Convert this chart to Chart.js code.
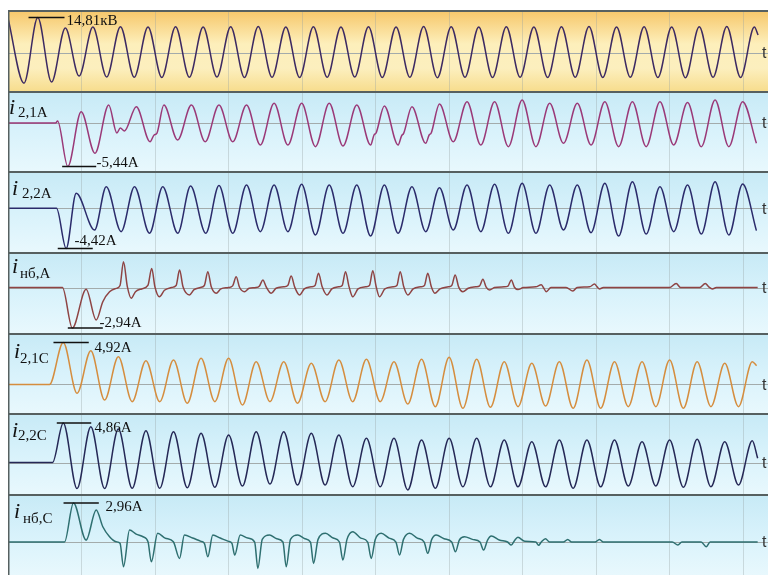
<!DOCTYPE html>
<html>
<head>
<meta charset="utf-8">
<script src="https://cdn.jsdelivr.net/npm/chart.js@4.4.1/dist/chart.umd.min.js"></script>
<style>
  html, body { margin: 0; padding: 0; background: #fff; }
  #wrap { position: relative; width: 768px; height: 575px; overflow: hidden; background: #fff; }
  #wrap canvas { position: absolute; left: 8px; }
</style>
</head>
<body>
<div id="wrap"></div>
<script>
// Oscillogram of a transformer differential protection event.
// Each trace is a list of [time, value] points (time in ms).

// Bus voltage, kV
const uBus = [[0,14.5],[11.6,-12.6],[21.6,14.81],[31.6,-12.1],[41.6,10.4],[51.6,-9.6],
  [61.6,10.8],[71.6,-10.0],[81.6,11.0],[91.6,-10.1],[101.6,10.9],[111.6,-10.2],[121.6,11.0],[131.6,-10.1],
  [141.6,10.9],[151.6,-10.0],[161.6,11.0],[171.6,-10.2],[181.6,11.1],[191.6,-10.1],[201.6,10.9],[211.6,-10.2],
  [221.6,11.0],[231.6,-10.1],[241.6,10.9],[251.6,-10.0],[261.6,11.0],[271.6,-10.2],[281.6,10.9],[291.6,-10.1],
  [301.6,11.1],[311.6,-10.3],[321.6,11.0],[331.6,-10.1],[341.6,10.9],[351.6,-10.2],[361.6,11.0],[371.6,-10.1],
  [381.6,10.9],[391.6,-10.2],[401.6,11.0],[411.6,-10.1],[421.6,11.1],[431.6,-10.2],[441.6,10.9],[451.6,-10.1],
  [461.6,11.0],[471.6,-10.2],[481.6,10.9],[491.6,-10.3],[501.6,11.0],[511.6,-10.1],[521.6,11.1],[531.6,-10.2],
  [541.6,10.8],[544.3,7.5]];

// Secondary current i2,1 phase A, A
const i21A = [[0,0],[34.6,0],[36.0,0.25],[43.4,-5.44],[53.1,1.41],[63.1,-3.79],[73.1,2.25],[79.0,-1.25],
  [81.5,-0.63],[84.5,-1.0],[93.1,2.04],[103.1,-2.34],[106.0,-1.5],[108.0,-1.3],[113.1,2.25],[123.1,-2.13],
  [133.1,2.25],[143.1,-2.34],[153.1,2.25],[163.1,-2.34],[173.1,2.25],[183.1,-2.75],[193.1,2.46],[203.1,-2.75],
  [213.1,2.46],[223.1,-2.96],[233.1,2.46],[243.1,-2.88],[253.1,2.25],[263.1,-2.75],[265.6,-1.5],[267.1,-1.25],
  [273.1,2.13],[283.1,-2.75],[285.6,-1.6],[287.1,-1.3],[293.1,2.04],[303.1,-2.54],[305.6,-1.5],[307.1,-1.25],
  [313.1,2.38],[323.1,-2.34],[333.1,2.67],[343.1,-2.75],[353.1,2.67],[363.1,-2.96],[373.1,2.88],[383.1,-2.96],
  [393.1,2.46],[403.1,-2.54],[413.1,2.46],[423.1,-2.75],[433.1,2.67],[443.1,-2.96],[453.1,2.67],[463.1,-2.96],
  [473.1,2.67],[483.1,-2.75],[493.1,2.56],[503.1,-2.96],[513.1,2.88],[523.1,-2.96],[533.1,2.67],[543.1,-2.54]];

// Secondary current i2,2 phase A, A
const i22A = [[0,0],[35.2,0],[42.2,-4.42],[49.5,1.65],[62.8,-2.39],[71.3,2.38],[82.1,-2.57],[91.8,2.38],
  [102.7,-2.75],[112.3,2.38],[123.2,-2.75],[132.5,2.45],[143.5,-2.75],[153.1,2.5],[163.1,-2.75],[173.1,2.56],
  [183.1,-2.57],[193.1,2.56],[203.1,-2.57],[213.1,2.64],[223.1,-2.94],[233.1,2.56],[243.1,-2.75],[253.1,2.56],
  [263.1,-3.05],[273.1,2.56],[283.1,-2.75],[293.1,2.38],[303.1,-2.57],[313.1,2.27],[323.1,-2.39],[333.1,2.56],
  [343.1,-2.57],[353.1,2.64],[363.1,-2.75],[373.1,2.75],[383.1,-2.75],[393.1,2.56],[403.1,-2.39],[413.1,2.56],
  [423.1,-2.68],[433.1,2.75],[443.1,-3.05],[453.1,2.93],[463.1,-2.83],[473.1,2.38],[483.1,-2.57],[493.1,2.56],
  [503.1,-2.83],[513.1,2.93],[523.1,-2.94],[533.1,2.67],[543.1,-2.46]];

// Unbalance (differential) current, phase A, A
const iNbA = [[0,0],[39.5,0],[46.7,-2.94],[56.7,-0.13],[64.0,-2.36],[68.8,-1.03],[73.7,-0.31],[78.5,-0.06],
  [81.3,0.15],[83.8,1.87],[86.6,0.06],[89.4,-0.78],[92.5,-0.3],[97.0,-0.1],[101.5,0.15],[104.3,1.39],
  [106.6,0.06],[109.9,-0.67],[113.5,-0.2],[118.5,0.0],[122.0,0.15],[124.5,1.27],[127.0,0.05],[131.7,-0.54],
  [135.0,-0.15],[139.5,0.0],[142.5,0.15],[145.0,1.15],[147.5,0.05],[151.1,-0.42],[154.5,-0.1],[160.0,0.0],
  [163.0,0.12],[165.6,0.78],[168.0,0.02],[171.6,-0.3],[175.0,-0.05],[180.0,0.0],[182.5,0.12],[184.9,0.54],
  [187.5,0.02],[191.0,-0.42],[194.5,-0.05],[200.0,0.05],[203.0,0.15],[205.5,0.83],[208.0,0.05],[211.5,-0.54],
  [215.0,-0.1],[220.0,0.05],[222.8,0.15],[225.3,1.03],[228.0,0.05],[231.4,-0.54],[235.0,-0.1],[240.0,0.05],
  [242.5,0.15],[244.9,1.15],[247.5,0.05],[250.2,-0.67],[254.0,-0.1],[259.5,0.05],[262.3,0.15],[264.7,1.22],
  [267.2,0.05],[269.6,-0.67],[273.5,-0.1],[279.5,0.05],[282.2,0.15],[284.6,1.15],[287.2,0.05],[290.1,-0.54],
  [294.0,-0.1],[299.5,0.05],[302.2,0.15],[304.6,1.03],[307.2,0.05],[309.7,-0.42],[313.5,-0.1],[319.5,0.05],
  [322.0,0.15],[324.5,0.91],[327.0,0.05],[330.1,-0.3],[334.0,-0.05],[339.5,0.05],[342.2,0.12],[344.6,0.6],
  [347.0,0.03],[349.5,-0.18],[353.0,0.0],[360.0,0.05],[362.8,0.1],[365.2,0.55],[367.5,0.02],[370.0,-0.15],
  [374.0,0.0],[383.0,0.05],[387.0,0.2],[388.5,0.0],[390.6,-0.3],[394.0,0.0],[405.0,0.0],[409.9,-0.25],
  [413.0,0.0],[422.0,0.05],[425.6,0.25],[427.5,0.05],[429.2,-0.1],[432.0,0.0],[480.0,0.0],[484.9,0.3],
  [488.0,0.0],[502.0,0.0],[506.0,0.3],[508.5,0.05],[511.2,-0.1],[514.0,0.0],[544.0,0.0]];

// Secondary current i2,1 phase C, A
const i21C = [[0,0],[30.1,0],[40.1,4.92],[50.1,-1.03],[60.1,3.96],[70.1,-1.82],[80.1,3.26],[90.1,-2.01],
  [100.1,2.79],[110.1,-2.01],[120.1,2.87],[130.1,-2.2],[140.1,3.07],[150.1,-2.01],[160.1,3.07],[170.1,-2.4],
  [180.1,2.67],[190.1,-2.01],[200.1,2.67],[210.1,-2.2],[220.1,2.48],[230.1,-2.01],[240.1,2.87],[250.1,-2.01],
  [260.1,2.95],[270.1,-2.01],[280.1,2.67],[290.1,-2.28],[300.1,2.95],[310.1,-2.6],[320.1,3.19],[330.1,-2.79],
  [340.1,2.95],[350.1,-2.67],[360.1,2.67],[370.1,-2.6],[380.1,2.48],[390.1,-2.52],[400.1,2.67],[410.1,-2.79],
  [420.1,2.87],[430.1,-2.79],[440.1,2.67],[450.1,-2.6],[460.1,2.67],[470.1,-2.6],[480.1,2.87],[490.1,-2.79],
  [500.1,2.67],[510.1,-2.6],[520.1,2.48],[530.1,-2.6],[540.1,2.67],[543.2,2.2]];

// Secondary current i2,2 phase C, A
const i22C = [[0,0],[32.3,0],[40.1,4.86],[50.1,-3.2],[60.1,4.4],[70.1,-3.2],[80.1,4.12],[90.1,-3.17],
  [100.1,3.91],[110.1,-3.17],[120.1,3.79],[130.1,-3.1],[140.1,3.59],[150.1,-3.05],[160.1,3.38],[170.1,-2.9],
  [180.1,3.79],[190.1,-2.64],[200.1,3.79],[210.1,-2.77],[220.1,3.59],[230.1,-2.77],[240.1,3.38],[250.1,-2.98],
  [260.1,2.98],[270.1,-2.98],[280.1,2.98],[290.1,-3.38],[300.1,2.77],[310.1,-3.17],[320.1,2.98],[330.1,-2.98],
  [340.1,2.98],[350.1,-2.98],[360.1,2.77],[370.1,-2.98],[380.1,2.56],[390.1,-2.98],[400.1,2.77],[410.1,-3.17],
  [420.1,2.77],[430.1,-2.98],[440.1,2.77],[450.1,-2.89],[460.1,2.56],[470.1,-2.89],[480.1,2.77],[490.1,-3.05],
  [500.1,2.85],[510.1,-2.98],[520.1,2.56],[530.1,-2.77],[540.1,2.68],[544.0,0.52]];

// Unbalance (differential) current, phase C, A
const iNbC = [[0,0],[41.0,0],[47.5,2.96],[56.7,0.15],[64.0,2.43],[68.8,1.16],[73.7,0.4],[78.5,0.02],
  [81.3,-0.1],[83.8,-1.87],[88.2,0.91],[93.0,0.6],[98.0,0.4],[101.6,0.02],[104.0,-1.5],[108.6,0.66],
  [114.0,0.3],[120.0,0.02],[124.5,-1.24],[128.0,0.53],[134.0,0.3],[140.0,0.05],[142.5,-0.1],[145.0,-1.11],
  [148.6,0.53],[154.0,0.3],[160.0,0.05],[162.5,-0.1],[164.5,-0.99],[168.5,0.53],[174.0,0.3],[179.0,0.0],
  [181.3,-2.0],[184.5,0.2],[189.8,0.53],[195.0,0.25],[199.5,0.0],[201.9,-1.87],[205.0,0.2],[210.3,0.53],
  [215.5,0.25],[219.5,0.0],[221.7,-1.62],[225.0,0.2],[230.4,0.66],[236.0,0.3],[240.5,0.0],[243.0,-1.37],
  [246.0,0.2],[250.2,0.78],[256.0,0.3],[261.0,0.0],[263.6,-1.24],[266.5,0.2],[270.8,0.66],[276.5,0.3],
  [281.5,0.0],[284.1,-0.99],[287.0,0.2],[291.4,0.66],[297.0,0.3],[302.0,0.0],[304.6,-0.86],[307.5,0.2],
  [310.7,0.53],[316.5,0.25],[322.0,0.0],[324.7,-0.74],[327.5,0.15],[331.3,0.4],[337.0,0.2],[342.5,0.0],
  [345.1,-0.61],[348.0,0.15],[350.7,0.46],[356.5,0.15],[362.5,0.0],[365.2,-0.23],[367.5,0.1],[370.0,0.36],
  [375.0,0.05],[383.0,0.0],[385.0,-0.25],[387.0,0.0],[390.0,0.25],[393.0,0.0],[403.0,0.0],[406.2,0.2],
  [409.0,0.0],[426.0,0.0],[429.2,0.2],[432.0,0.0],[482.0,0.0],[486.1,-0.23],[489.0,0.0],[503.0,0.0],
  [506.7,-0.36],[509.5,0.0],[544.0,0.0]];

// Time axis: window length and grid division, ms
const T_MAX = 551.5;
const GRID_STEP = 160 / 3;

const WARM = [[0, '#f6c668'], [0.42, '#fdefbb'], [0.72, '#fcefbe'], [1, '#f7dd8e']];
const COOL = [[0, '#c7eaf6'], [0.5, '#d8f2fb'], [1, '#e8f8fd']];

// Strip layout and styling
const strips = [
  { data: uBus, color: '#3d2a62', top: 10,  h: 81, yMin: -15.85, yMax: 17.94, bg: WARM,
    name: null, sub: null, pick: 'max', unit: 'кВ',
    mark: { t0: 14.9, t1: 41.0, tx: 42.5, dy: 7.5 }, font: 15 },
  { data: i21A, color: '#9a3978', top: 91,  h: 80, yMin: -6.00, yMax: 4.00, bg: COOL,
    name: { x: 1, dy: 23 }, sub: { text: '2,1А', x: 10, dy: 26 }, pick: 'min', unit: 'А',
    mark: { t0: 39.3, t1: 64.0, tx: 64.2, dy: 0.5 }, font: 15 },
  { data: i22A, color: '#2b2b6b', top: 171, h: 81, yMin: -4.81, yMax: 4.10, bg: COOL,
    name: { x: 4, dy: 24 }, sub: { text: '2,2А', x: 14, dy: 27 }, pick: 'min', unit: 'А',
    mark: { t0: 36.1, t1: 61.5, tx: 48.3, dy: -3 }, font: 15 },
  { data: iNbA, color: '#8e4444', top: 252, h: 81, yMin: -3.30, yMax: 2.58, bg: COOL,
    name: { x: 4, dy: 21 }, sub: { text: 'нб,А', x: 12, dy: 26 }, pick: 'min', unit: 'А',
    mark: { t0: 43.4, t1: 68.8, tx: 66.4, dy: -1.5 }, font: 15 },
  { data: i21C, color: '#d58d3e', top: 333, h: 80, yMin: -3.34, yMax: 6.03, bg: COOL,
    name: { x: 6, dy: 25 }, sub: { text: '2,1С', x: 12, dy: 30 }, pick: 'max', unit: 'А',
    mark: { t0: 33.0, t1: 58.6, tx: 62.8, dy: 9.5 }, font: 15 },
  { data: i22C, color: '#252856', top: 413, h: 81, yMin: -3.87, yMax: 6.09, bg: COOL,
    name: { x: 4, dy: 24 }, sub: { text: '2,2С', x: 10, dy: 27 }, pick: 'max', unit: 'А',
    mark: { t0: 35.4, t1: 60.4, tx: 62.8, dy: 8.5 }, font: 15 },
  { data: iNbC, color: '#2e6f70', top: 494, h: 81, yMin: -2.50, yMax: 3.64, bg: COOL,
    name: { x: 6, dy: 24 }, sub: { text: 'нб,С', x: 15, dy: 29 }, pick: 'max', unit: 'А',
    mark: { t0: 40.3, t1: 65.9, tx: 70.8, dy: 8.5 }, font: 15 }
];

const stripPlugin = {
  id: 'strip',
  beforeDatasetsDraw(chart, args, o) {
    const { ctx, chartArea: a, scales: { x, y } } = chart;
    ctx.save();
    const g = ctx.createLinearGradient(0, a.top, 0, a.bottom);
    o.bg.forEach(([s, c]) => g.addColorStop(s, c));
    ctx.fillStyle = g;
    ctx.fillRect(a.left, a.top, a.width, a.height);
    // time divisions
    ctx.strokeStyle = 'rgba(150,160,160,0.35)';
    ctx.lineWidth = 1;
    for (let t = GRID_STEP; t < x.max; t += GRID_STEP) {
      const px = Math.round(x.getPixelForValue(t)) + 0.5;
      ctx.beginPath(); ctx.moveTo(px, a.top); ctx.lineTo(px, a.bottom); ctx.stroke();
    }
    // zero line
    const py = Math.round(y.getPixelForValue(0)) + 0.5;
    ctx.strokeStyle = '#a3abab';
    ctx.beginPath(); ctx.moveTo(a.left, py); ctx.lineTo(a.right, py); ctx.stroke();
    ctx.restore();
  },
  afterDraw(chart, args, o) {
    const { ctx, chartArea: a, scales: { x, y } } = chart;
    const pts = chart.data.datasets[0].data;
    const vals = pts.map(p => p.y);
    const v = o.pick === 'max' ? Math.max(...vals) : Math.min(...vals);
    ctx.save();
    // peak marker with its value
    const my = y.getPixelForValue(v);
    ctx.strokeStyle = '#111';
    ctx.lineWidth = 1.5;
    ctx.beginPath();
    ctx.moveTo(x.getPixelForValue(o.mark.t0), my);
    ctx.lineTo(x.getPixelForValue(o.mark.t1), my);
    ctx.stroke();
    ctx.fillStyle = '#111';
    ctx.font = o.font + 'px "Liberation Serif", serif';
    ctx.textBaseline = 'alphabetic';
    ctx.textAlign = 'left';
    ctx.fillText(v.toFixed(2).replace('.', ',') + o.unit, x.getPixelForValue(o.mark.tx), my + o.mark.dy);
    // trace name
    if (o.name) {
      ctx.font = 'italic 22px "Liberation Serif", serif';
      ctx.fillText('i', o.name.x, a.top + o.name.dy);
      ctx.font = '15px "Liberation Serif", serif';
      ctx.fillText(o.sub.text, o.sub.x, a.top + o.sub.dy);
    }
    // time axis mark
    ctx.font = '16px "Liberation Sans", sans-serif';
    ctx.fillStyle = '#333';
    ctx.textBaseline = 'middle';
    ctx.fillText('t', 754, y.getPixelForValue(0) + 1);
    // frame: strip separator and left edge
    ctx.fillStyle = '#566060';
    ctx.fillRect(0, 0, a.right, 2);
    ctx.fillRect(0, 0, 1.5, a.bottom);
    ctx.restore();
  }
};

const wrap = document.getElementById('wrap');
strips.forEach(s => {
  const cv = document.createElement('canvas');
  cv.width = 760; cv.height = s.h;
  cv.style.top = s.top + 'px';
  cv.style.width = '760px'; cv.style.height = s.h + 'px';
  wrap.appendChild(cv);
  new Chart(cv.getContext('2d'), {
    type: 'line',
    data: {
      datasets: [{
        data: s.data.map(([t, val]) => ({ x: t, y: val })),
        borderColor: s.color,
        borderWidth: 1.5,
        pointRadius: 0,
        fill: false,
        cubicInterpolationMode: 'monotone'
      }]
    },
    options: {
      responsive: false,
      animation: false,
      events: [],
      layout: { padding: 0 },
      scales: {
        x: { type: 'linear', min: 0, max: T_MAX, display: false },
        y: { min: s.yMin, max: s.yMax, display: false }
      },
      plugins: {
        legend: { display: false },
        tooltip: { enabled: false },
        strip: { bg: s.bg, name: s.name, sub: s.sub, pick: s.pick, unit: s.unit, mark: s.mark, font: s.font }
      }
    },
    plugins: [stripPlugin]
  });
});
</script>
</body>
</html>
